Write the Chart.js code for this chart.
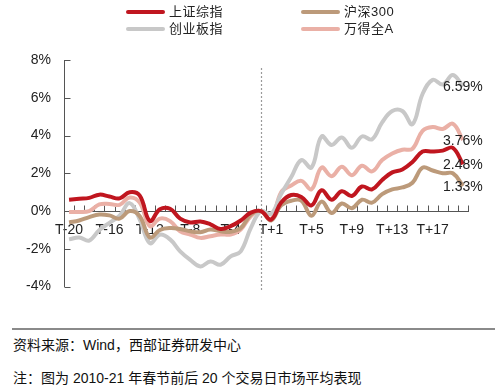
<!DOCTYPE html>
<html>
<head>
<meta charset="utf-8">
<script src="https://cdn.jsdelivr.net/npm/chart.js@4/dist/chart.umd.min.js"></script>
<style>
  html, body { margin: 0; padding: 0; background: #fff; }
  body { width: 500px; height: 388px; position: relative; overflow: hidden;
         font-family: "Liberation Sans", "Noto Sans CJK SC", sans-serif; color: #222; }
  #wrap { position: absolute; left: 0; top: 0; width: 500px; height: 308px; }
  .lg { position: absolute; font-size: 13px; line-height: 16px; white-space: nowrap; letter-spacing: 0.5px; }
  .lg i { position: absolute; height: 4px; width: 39px; border-radius: 2px; }
  .rule { position: absolute; left: 12px; top: 328px; width: 483px; height: 2px; background: #8a8a8a; }
  .note { position: absolute; left: 13px; font-size: 14px; line-height: 18px; white-space: nowrap; color: #111; }
</style>
</head>
<body>
<div id="wrap"><canvas id="c" width="500" height="308"></canvas></div>
<div id="legend"></div>
<div class="rule"></div>
<div class="note" style="top:336px">资料来源：Wind，西部证券研发中心</div>
<div class="note" style="top:369px">注：图为 2010-21 年春节前后 20 个交易日市场平均表现</div>
<script>
const categories = ["T-20","T-19","T-18","T-17","T-16","T-15","T-14","T-13","T-12","T-11",
  "T-10","T-9","T-8","T-7","T-6","T-5","T-4","T-3","T-2","T-1",
  "T+1","T+2","T+3","T+4","T+5","T+6","T+7","T+8","T+9","T+10",
  "T+11","T+12","T+13","T+14","T+15","T+16","T+17","T+18","T+19","T+20"];

const seriesNames = ["上证综指", "沪深300", "创业板指", "万得全A"];

const shanghai = [0.60,0.65,0.70,0.87,0.77,0.67,1.00,0.82,-0.52,0.10,
  0.12,-0.40,-0.60,-0.55,-0.70,-0.95,-0.80,-0.50,-0.08,0.00,
  -0.45,0.45,0.85,0.75,0.30,1.10,0.60,1.05,0.80,1.30,
  1.15,1.65,2.05,2.20,2.60,3.15,3.15,3.20,3.35,2.48];

const hs300 = [-0.60,-0.50,-0.32,-0.18,-0.23,-0.40,0.00,-0.27,-1.40,-1.00,
  -0.90,-0.95,-1.07,-1.12,-0.98,-1.07,-1.10,-0.90,-0.18,0.00,
  -0.50,0.30,0.55,0.55,-0.25,0.50,-0.10,0.40,0.15,0.60,
  0.45,0.90,1.15,1.25,1.50,2.30,2.15,2.00,2.00,1.33];

const chinext = [-1.50,-1.40,-1.56,-1.00,-0.62,-0.25,0.42,-0.45,-1.70,-1.25,
  -1.50,-2.13,-2.58,-2.93,-2.67,-2.84,-2.40,-2.13,-0.89,0.00,
  -0.15,0.90,1.80,2.70,2.30,3.95,3.50,3.90,3.35,3.95,
  3.80,4.70,5.30,5.30,4.60,6.20,6.95,6.70,7.20,6.59];

const windA = [-0.05,-0.05,0.00,0.35,0.38,0.33,0.72,0.45,-0.80,-0.40,
  -0.53,-1.07,-1.24,-1.42,-1.33,-1.24,-1.24,-0.98,-0.27,0.00,
  -0.45,1.00,1.35,1.60,1.15,2.30,1.85,2.35,1.90,2.40,
  2.10,2.70,3.05,3.25,3.30,4.25,4.45,4.35,4.62,3.76];

const yTicks = [-4, -2, 0, 2, 4, 6, 8];
const endLabels = ["2.48%", "1.33%", "6.59%", "3.76%"];

const colors = ["#C0161F", "#BC9A7A", "#C8C8C8", "#EAB0A6"];
const allSeries = [shanghai, hs300, chinext, windA];

// legend (2 x 2)
const legendPos = [[126, 4], [301, 4], [126, 21], [301, 21]];
const lg = document.getElementById('legend');
seriesNames.forEach((n, k) => {
  const d = document.createElement('div');
  d.className = 'lg';
  d.style.left = legendPos[k][0] + 'px';
  d.style.top = legendPos[k][1] + 'px';
  d.innerHTML = '<i style="left:0;top:6px;background:' + colors[k] + '"></i><span style="margin-left:43px">' + n + '</span>';
  lg.appendChild(d);
});

const FONT = '"Liberation Sans", "Noto Sans CJK SC", sans-serif';

const decor = {
  id: 'decor',
  beforeDatasetsDraw(chart) {
    const { ctx, chartArea, scales: { x, y } } = chart;
    ctx.save();
    const xv = Math.round(x.getPixelForValue(19)) + 0.5;
    ctx.strokeStyle = '#9a9a9a';
    ctx.lineWidth = 1.2;
    ctx.setLineDash([2, 2]);
    ctx.beginPath();
    ctx.moveTo(xv, chartArea.top + 8);
    ctx.lineTo(xv, chartArea.bottom + 5);
    ctx.stroke();
    ctx.setLineDash([]);
    const y0 = Math.round(y.getPixelForValue(0)) + 0.5;
    const half = (x.getPixelForValue(1) - x.getPixelForValue(0)) / 2;
    ctx.strokeStyle = '#555';
    ctx.lineWidth = 1;
    ctx.beginPath();
    for (let i = 0; i <= categories.length; i++) {
      const px = Math.round(x.getPixelForValue(i) - half) + 0.5;
      ctx.moveTo(px, y0);
      ctx.lineTo(px, y0 - 6);
    }
    const xl = Math.round(chartArea.left) + 0.5;
    yTicks.forEach(v => {
      const py = Math.round(y.getPixelForValue(v)) + 0.5;
      ctx.moveTo(xl, py);
      ctx.lineTo(xl + 6, py);
    });
    ctx.stroke();
    ctx.restore();
  },
  afterDatasetsDraw(chart) {
    const { ctx, scales: { x, y } } = chart;
    ctx.save();
    ctx.font = '14px ' + FONT;
    ctx.fillStyle = '#222';
    ctx.textAlign = 'left';
    ctx.textBaseline = 'middle';
    const last = categories.length - 1;
    allSeries.forEach((s, k) => {
      const px = x.getPixelForValue(last) - 20;
      const py = y.getPixelForValue(s[last]);
      ctx.fillText(endLabels[k], px, py + 1);
    });
    ctx.restore();
  }
};

new Chart(document.getElementById('c'), {
  type: 'line',
  data: {
    labels: categories,
    datasets: allSeries.map((s, k) => ({
      label: seriesNames[k],
      data: s,
      borderColor: colors[k],
      borderWidth: 4,
      pointRadius: 0,
      tension: 0.4,
      fill: false
    }))
  },
  options: {
    responsive: false,
    devicePixelRatio: 1,
    animation: false,
    layout: { padding: { left: 0, right: 32, top: 60, bottom: 15 } },
    plugins: { legend: { display: false }, tooltip: { enabled: false } },
    scales: {
      x: {
        type: 'category',
        position: { y: 0 },
        offset: true,
        afterFit: s => { s.height = 0; },
        grid: { display: false, drawTicks: false },
        border: { display: true, color: '#555', width: 1 },
        ticks: {
          autoSkip: false,
          maxRotation: 0,
          padding: 11,
          color: '#222',
          font: { size: 14, family: FONT },
          callback: (v, i) => (i % 4 === 0 ? categories[i] : '')
        }
      },
      y: {
        min: -4, max: 8,
        afterFit: s => { s.width = 64; },
        grid: { display: false, drawTicks: false },
        border: { display: true, color: '#555', width: 1 },
        ticks: {
          stepSize: 2,
          padding: 13,
          color: '#222',
          font: { size: 14, family: FONT },
          callback: v => v + '%'
        }
      }
    }
  },
  plugins: [decor]
});
</script>
</body>
</html>
